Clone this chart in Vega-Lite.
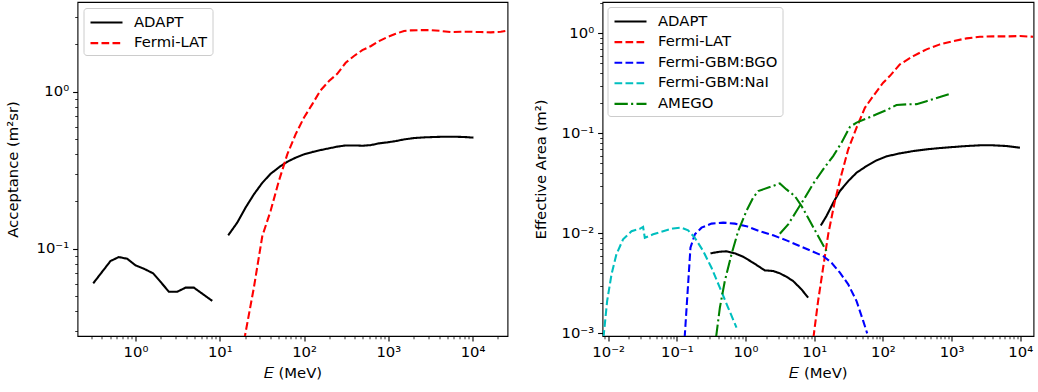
{
  "$schema": "https://vega.github.io/schema/vega-lite/v6.json",
  "padding": {"left": 4.5, "top": 1, "right": 0, "bottom": 0},
  "spacing": 23,
  "background": "white",
  "config": {
    "font": "DejaVu Sans",
    "view": {"stroke": "#000000", "strokeWidth": 1.1},
    "axis": {
      "domain": false, "grid": false,
      "labelFont": "DejaVu Sans", "labelColor": "#000000",
      "titleFont": "DejaVu Sans", "titleFontSize": 14.8, "titleFontWeight": "normal", "titleColor": "#000000",
      "tickColor": "#000000", "labelOverlap": false, "labelFlush": false, "labelBound": false
    },
    "legend": {
      "orient": "top-left", "offset": 6, "fillColor": "rgba(255,255,255,0.8)", "strokeColor": "#cccccc",
      "cornerRadius": 3, "padding": 5, "labelFont": "DejaVu Sans", "labelFontSize": 14.8, "labelColor": "#000000",
      "symbolType": "M-2,0H2", "symbolSize": 256, "symbolOffset": 8.5, "symbolStrokeWidth": 2.08, "labelOffset": 18, "rowPadding": 3.6
    }
  },
  "resolve": {"scale": {"color": "independent", "strokeDash": "independent", "x": "independent", "y": "independent"}},
  "hconcat": [
    {
      "width": 430, "height": 334,
      "data": {"values": [
        {"s":"ADAPT","g":1,"e":0.315,"a":0.0602},{"s":"ADAPT","g":1,"e":0.505,"a":0.0835},{"s":"ADAPT","g":1,"e":0.634,"a":0.0885},{"s":"ADAPT","g":1,"e":0.797,"a":0.0863},{"s":"ADAPT","g":1,"e":1.0,"a":0.0784},{"s":"ADAPT","g":1,"e":1.256,"a":0.0746},{"s":"ADAPT","g":1,"e":1.62,"a":0.0697},{"s":"ADAPT","g":1,"e":1.98,"a":0.0616},{"s":"ADAPT","g":1,"e":2.49,"a":0.0532},{"s":"ADAPT","g":1,"e":3.13,"a":0.0532},{"s":"ADAPT","g":1,"e":3.93,"a":0.0565},{"s":"ADAPT","g":1,"e":4.93,"a":0.0565},{"s":"ADAPT","g":1,"e":6.2,"a":0.0517},{"s":"ADAPT","g":1,"e":8.15,"a":0.0465},
        {"s":"ADAPT","g":2,"e":12.6,"a":0.1217},{"s":"ADAPT","g":2,"e":16.1,"a":0.1465},{"s":"ADAPT","g":2,"e":20.2,"a":0.1824},{"s":"ADAPT","g":2,"e":25.4,"a":0.222},{"s":"ADAPT","g":2,"e":32.0,"a":0.263},{"s":"ADAPT","g":2,"e":40.1,"a":0.300},{"s":"ADAPT","g":2,"e":52.7,"a":0.336},{"s":"ADAPT","g":2,"e":63.3,"a":0.358},{"s":"ADAPT","g":2,"e":79.4,"a":0.380},{"s":"ADAPT","g":2,"e":99.7,"a":0.399},{"s":"ADAPT","g":2,"e":125,"a":0.413},{"s":"ADAPT","g":2,"e":157,"a":0.425},{"s":"ADAPT","g":2,"e":198,"a":0.436},{"s":"ADAPT","g":2,"e":248,"a":0.447},{"s":"ADAPT","g":2,"e":312,"a":0.455},{"s":"ADAPT","g":2,"e":392,"a":0.455},{"s":"ADAPT","g":2,"e":492,"a":0.453},{"s":"ADAPT","g":2,"e":618,"a":0.457},{"s":"ADAPT","g":2,"e":777,"a":0.469},{"s":"ADAPT","g":2,"e":975,"a":0.476},{"s":"ADAPT","g":2,"e":1224,"a":0.485},{"s":"ADAPT","g":2,"e":1538,"a":0.497},{"s":"ADAPT","g":2,"e":2023,"a":0.507},{"s":"ADAPT","g":2,"e":2656,"a":0.512},{"s":"ADAPT","g":2,"e":3494,"a":0.515},{"s":"ADAPT","g":2,"e":4592,"a":0.517},{"s":"ADAPT","g":2,"e":6040,"a":0.517},{"s":"ADAPT","g":2,"e":7940,"a":0.515},{"s":"ADAPT","g":2,"e":10250,"a":0.510},
        {"s":"Fermi-LAT","g":1,"e":19.45,"a":0.026},{"s":"Fermi-LAT","g":1,"e":25.4,"a":0.0565},{"s":"Fermi-LAT","g":1,"e":32.0,"a":0.1205},{"s":"Fermi-LAT","g":1,"e":40.1,"a":0.174},{"s":"Fermi-LAT","g":1,"e":50.3,"a":0.270},{"s":"Fermi-LAT","g":1,"e":63.3,"a":0.399},{"s":"Fermi-LAT","g":1,"e":79.4,"a":0.535},{"s":"Fermi-LAT","g":1,"e":99.7,"a":0.683},{"s":"Fermi-LAT","g":1,"e":125,"a":0.831},{"s":"Fermi-LAT","g":1,"e":157,"a":1.02},{"s":"Fermi-LAT","g":1,"e":198,"a":1.17},{"s":"Fermi-LAT","g":1,"e":248,"a":1.30},{"s":"Fermi-LAT","g":1,"e":312,"a":1.53},{"s":"Fermi-LAT","g":1,"e":392,"a":1.69},{"s":"Fermi-LAT","g":1,"e":492,"a":1.84},{"s":"Fermi-LAT","g":1,"e":618,"a":1.95},{"s":"Fermi-LAT","g":1,"e":777,"a":2.10},{"s":"Fermi-LAT","g":1,"e":975,"a":2.23},{"s":"Fermi-LAT","g":1,"e":1224,"a":2.34},{"s":"Fermi-LAT","g":1,"e":1538,"a":2.44},{"s":"Fermi-LAT","g":1,"e":1845,"a":2.46},{"s":"Fermi-LAT","g":1,"e":2427,"a":2.47},{"s":"Fermi-LAT","g":1,"e":3190,"a":2.47},{"s":"Fermi-LAT","g":1,"e":4190,"a":2.44},{"s":"Fermi-LAT","g":1,"e":5510,"a":2.40},{"s":"Fermi-LAT","g":1,"e":7240,"a":2.41},{"s":"Fermi-LAT","g":1,"e":9520,"a":2.41},{"s":"Fermi-LAT","g":1,"e":12500,"a":2.40},{"s":"Fermi-LAT","g":1,"e":16440,"a":2.39},{"s":"Fermi-LAT","g":1,"e":21630,"a":2.41},{"s":"Fermi-LAT","g":1,"e":25950,"a":2.45}
      ]},
      "mark": {"type": "line", "clip": true, "strokeWidth": 2.08},
      "encoding": {
        "x": {"field": "e", "type": "quantitative",
          "scale": {"type": "log", "domain": [0.205, 26000], "nice": false},
          "axis": {"title": "𝐸 (MeV)", "values": [0.3,0.4,0.5,0.6,0.7,0.8,0.9,1,2,3,4,5,6,7,8,9,10,20,30,40,50,60,70,80,90,100,200,300,400,500,600,700,800,900,1000,2000,3000,4000,5000,6000,7000,8000,9000,10000,20000],
            "labelExpr": "abs(log(datum.value)/LN10 - round(log(datum.value)/LN10)) < 0.001 ? '10' + replace(replace(replace(replace(replace(replace(''+round(log(datum.value)/LN10),'-','⁻'),'0','⁰'),'1','¹'),'2','²'),'3','³'),'4','⁴') : ''",
            "labelFontSize": {"condition": {"test": "abs(log(datum.value)/LN10 - round(log(datum.value)/LN10)) < 0.001", "value": 14.8}, "value": 0},
            "tickSize": {"condition": {"test": "abs(log(datum.value)/LN10 - round(log(datum.value)/LN10)) < 0.001", "value": 4.9}, "value": 2.8},
            "tickWidth": {"condition": {"test": "abs(log(datum.value)/LN10 - round(log(datum.value)/LN10)) < 0.001", "value": 1.1}, "value": 0.8},
            "labelPadding": 3.5, "titlePadding": 6.5}},
        "y": {"field": "a", "type": "quantitative",
          "scale": {"type": "log", "domain": [0.0278, 3.73], "nice": false},
          "axis": {"title": "Acceptance (m²sr)", "values": [0.03,0.04,0.05,0.06,0.07,0.08,0.09,0.1,0.2,0.3,0.4,0.5,0.6,0.7,0.8,0.9,1,2,3],
            "labelExpr": "abs(log(datum.value)/LN10 - round(log(datum.value)/LN10)) < 0.001 ? '10' + replace(replace(replace(replace(replace(replace(''+round(log(datum.value)/LN10),'-','⁻'),'0','⁰'),'1','¹'),'2','²'),'3','³'),'4','⁴') : ''",
            "labelFontSize": {"condition": {"test": "abs(log(datum.value)/LN10 - round(log(datum.value)/LN10)) < 0.001", "value": 14.8}, "value": 0},
            "tickSize": {"condition": {"test": "abs(log(datum.value)/LN10 - round(log(datum.value)/LN10)) < 0.001", "value": 4.9}, "value": 2.8},
            "tickWidth": {"condition": {"test": "abs(log(datum.value)/LN10 - round(log(datum.value)/LN10)) < 0.001", "value": 1.1}, "value": 0.8},
            "labelPadding": 4, "titlePadding": 15.5}},
        "color": {"field": "s", "type": "nominal", "title": null,
          "legend": {"symbolType": "M-2,0H2", "symbolSize": 256, "offset": 6},
          "scale": {"domain": ["ADAPT", "Fermi-LAT"], "range": ["#000000", "#ff0000"]}},
        "strokeDash": {"field": "s", "type": "nominal", "title": null,
          "legend": {"symbolType": "M-2,0H2", "symbolSize": 256, "offset": 6},
          "scale": {"domain": ["ADAPT", "Fermi-LAT"], "range": [[1, 0], [7.7, 3.3]]}},
        "detail": {"field": "g", "type": "nominal"}
      }
    },
    {
      "width": 431, "height": 334,
      "data": {"values": [
        {"s":"ADAPT","g":1,"e":0.309,"a":0.00631},{"s":"ADAPT","g":1,"e":0.423,"a":0.00655},{"s":"ADAPT","g":1,"e":0.529,"a":0.00661},{"s":"ADAPT","g":1,"e":0.700,"a":0.00631},{"s":"ADAPT","g":1,"e":0.925,"a":0.00583},{"s":"ADAPT","g":1,"e":1.29,"a":0.00508},{"s":"ADAPT","g":1,"e":1.91,"a":0.00426},{"s":"ADAPT","g":1,"e":2.53,"a":0.00420},{"s":"ADAPT","g":1,"e":3.16,"a":0.00398},{"s":"ADAPT","g":1,"e":3.95,"a":0.00368},{"s":"ADAPT","g":1,"e":4.94,"a":0.00333},{"s":"ADAPT","g":1,"e":6.54,"a":0.00275},{"s":"ADAPT","g":1,"e":8.17,"a":0.00227},
        {"s":"ADAPT","g":2,"e":12.5,"a":0.0120},{"s":"ADAPT","g":2,"e":15.1,"a":0.0149},{"s":"ADAPT","g":2,"e":18.9,"a":0.0202},{"s":"ADAPT","g":2,"e":23.7,"a":0.0265},{"s":"ADAPT","g":2,"e":31.3,"a":0.0333},{"s":"ADAPT","g":2,"e":41.4,"a":0.0404},{"s":"ADAPT","g":2,"e":57.8,"a":0.0471},{"s":"ADAPT","g":2,"e":80.9,"a":0.0537},{"s":"ADAPT","g":2,"e":113,"a":0.0589},{"s":"ADAPT","g":2,"e":177,"a":0.0631},{"s":"ADAPT","g":2,"e":277,"a":0.0665},{"s":"ADAPT","g":2,"e":432,"a":0.0692},{"s":"ADAPT","g":2,"e":676,"a":0.0713},{"s":"ADAPT","g":2,"e":1057,"a":0.0730},{"s":"ADAPT","g":2,"e":1652,"a":0.0747},{"s":"ADAPT","g":2,"e":2585,"a":0.0759},{"s":"ADAPT","g":2,"e":4043,"a":0.0759},{"s":"ADAPT","g":2,"e":6320,"a":0.0747},{"s":"ADAPT","g":2,"e":9890,"a":0.0718},
        {"s":"Fermi-LAT","g":1,"e":9.74,"a":0.0009},{"s":"Fermi-LAT","g":1,"e":11.4,"a":0.00210},{"s":"Fermi-LAT","g":1,"e":13.5,"a":0.00453},{"s":"Fermi-LAT","g":1,"e":16.0,"a":0.00977},{"s":"Fermi-LAT","g":1,"e":20.0,"a":0.0210},{"s":"Fermi-LAT","g":1,"e":25.0,"a":0.0389},{"s":"Fermi-LAT","g":1,"e":31.3,"a":0.0692},{"s":"Fermi-LAT","g":1,"e":41.4,"a":0.114},{"s":"Fermi-LAT","g":1,"e":54.7,"a":0.180},{"s":"Fermi-LAT","g":1,"e":72.3,"a":0.236},{"s":"Fermi-LAT","g":1,"e":101,"a":0.321},{"s":"Fermi-LAT","g":1,"e":126,"a":0.374},{"s":"Fermi-LAT","g":1,"e":177,"a":0.490},{"s":"Fermi-LAT","g":1,"e":277,"a":0.593},{"s":"Fermi-LAT","g":1,"e":432,"a":0.692},{"s":"Fermi-LAT","g":1,"e":676,"a":0.776},{"s":"Fermi-LAT","g":1,"e":1057,"a":0.838},{"s":"Fermi-LAT","g":1,"e":1652,"a":0.891},{"s":"Fermi-LAT","g":1,"e":2585,"a":0.925},{"s":"Fermi-LAT","g":1,"e":4043,"a":0.933},{"s":"Fermi-LAT","g":1,"e":6320,"a":0.933},{"s":"Fermi-LAT","g":1,"e":9890,"a":0.94},{"s":"Fermi-LAT","g":1,"e":15450,"a":0.925},
        {"s":"Fermi-GBM:BGO","g":1,"e":0.130,"a":0.0009},{"s":"Fermi-GBM:BGO","g":1,"e":0.146,"a":0.00309},{"s":"Fermi-GBM:BGO","g":1,"e":0.158,"a":0.00718},{"s":"Fermi-GBM:BGO","g":1,"e":0.183,"a":0.00977},{"s":"Fermi-GBM:BGO","g":1,"e":0.229,"a":0.0114},{"s":"Fermi-GBM:BGO","g":1,"e":0.320,"a":0.0125},{"s":"Fermi-GBM:BGO","g":1,"e":0.473,"a":0.0128},{"s":"Fermi-GBM:BGO","g":1,"e":0.700,"a":0.0125},{"s":"Fermi-GBM:BGO","g":1,"e":1.03,"a":0.0118},{"s":"Fermi-GBM:BGO","g":1,"e":1.62,"a":0.0105},{"s":"Fermi-GBM:BGO","g":1,"e":2.53,"a":0.00955},{"s":"Fermi-GBM:BGO","g":1,"e":3.95,"a":0.00851},{"s":"Fermi-GBM:BGO","g":1,"e":6.18,"a":0.00746},{"s":"Fermi-GBM:BGO","g":1,"e":9.67,"a":0.00655},{"s":"Fermi-GBM:BGO","g":1,"e":13.5,"a":0.00593},{"s":"Fermi-GBM:BGO","g":1,"e":17.9,"a":0.00508},{"s":"Fermi-GBM:BGO","g":1,"e":23.7,"a":0.00404},{"s":"Fermi-GBM:BGO","g":1,"e":31.3,"a":0.00309},{"s":"Fermi-GBM:BGO","g":1,"e":41.4,"a":0.00210},{"s":"Fermi-GBM:BGO","g":1,"e":51.7,"a":0.00133},{"s":"Fermi-GBM:BGO","g":1,"e":59.1,"a":0.00100},
        {"s":"Fermi-GBM:NaI","g":1,"e":0.00855,"a":0.0009},{"s":"Fermi-GBM:NaI","g":1,"e":0.00967,"a":0.0021},{"s":"Fermi-GBM:NaI","g":1,"e":0.0112,"a":0.00389},{"s":"Fermi-GBM:NaI","g":1,"e":0.0132,"a":0.00617},{"s":"Fermi-GBM:NaI","g":1,"e":0.0165,"a":0.00871},{"s":"Fermi-GBM:NaI","g":1,"e":0.0219,"a":0.0105},{"s":"Fermi-GBM:NaI","g":1,"e":0.0289,"a":0.0111},{"s":"Fermi-GBM:NaI","g":1,"e":0.0323,"a":0.0116},{"s":"Fermi-GBM:NaI","g":1,"e":0.0342,"a":0.00903},{"s":"Fermi-GBM:NaI","g":1,"e":0.0452,"a":0.00977},{"s":"Fermi-GBM:NaI","g":1,"e":0.0632,"a":0.0105},{"s":"Fermi-GBM:NaI","g":1,"e":0.0885,"a":0.0112},{"s":"Fermi-GBM:NaI","g":1,"e":0.117,"a":0.0114},{"s":"Fermi-GBM:NaI","g":1,"e":0.146,"a":0.0107},{"s":"Fermi-GBM:NaI","g":1,"e":0.183,"a":0.00903},{"s":"Fermi-GBM:NaI","g":1,"e":0.242,"a":0.00665},{"s":"Fermi-GBM:NaI","g":1,"e":0.320,"a":0.00453},{"s":"Fermi-GBM:NaI","g":1,"e":0.423,"a":0.00286},{"s":"Fermi-GBM:NaI","g":1,"e":0.560,"a":0.00180},{"s":"Fermi-GBM:NaI","g":1,"e":0.740,"a":0.00114},
        {"s":"AMEGO","g":1,"e":0.372,"a":0.0009},{"s":"AMEGO","g":1,"e":0.423,"a":0.0018},{"s":"AMEGO","g":1,"e":0.500,"a":0.00333},{"s":"AMEGO","g":1,"e":0.625,"a":0.00617},{"s":"AMEGO","g":1,"e":0.782,"a":0.0105},{"s":"AMEGO","g":1,"e":1.03,"a":0.0167},{"s":"AMEGO","g":1,"e":1.29,"a":0.0227},{"s":"AMEGO","g":1,"e":1.53,"a":0.0265},{"s":"AMEGO","g":1,"e":2.26,"a":0.0290},{"s":"AMEGO","g":1,"e":3.16,"a":0.0316},{"s":"AMEGO","g":1,"e":3.95,"a":0.0275},{"s":"AMEGO","g":1,"e":5.23,"a":0.0236},{"s":"AMEGO","g":1,"e":6.54,"a":0.0188},{"s":"AMEGO","g":1,"e":8.65,"a":0.0133},{"s":"AMEGO","g":1,"e":11.4,"a":0.0094},{"s":"AMEGO","g":1,"e":15.1,"a":0.00665},
        {"s":"AMEGO","g":2,"e":3.16,"a":0.00992},{"s":"AMEGO","g":2,"e":4.18,"a":0.0123},{"s":"AMEGO","g":2,"e":5.53,"a":0.0167},{"s":"AMEGO","g":2,"e":7.31,"a":0.0227},{"s":"AMEGO","g":2,"e":9.67,"a":0.0313},{"s":"AMEGO","g":2,"e":13.5,"a":0.0436},{"s":"AMEGO","g":2,"e":18.9,"a":0.0593},{"s":"AMEGO","g":2,"e":25.0,"a":0.0806},{"s":"AMEGO","g":2,"e":33.1,"a":0.116},{"s":"AMEGO","g":2,"e":41.4,"a":0.128},{"s":"AMEGO","g":2,"e":57.8,"a":0.141},{"s":"AMEGO","g":2,"e":80.9,"a":0.155},{"s":"AMEGO","g":2,"e":113,"a":0.171},{"s":"AMEGO","g":2,"e":158,"a":0.192},{"s":"AMEGO","g":2,"e":221,"a":0.195},{"s":"AMEGO","g":2,"e":309,"a":0.196},{"s":"AMEGO","g":2,"e":432,"a":0.210},{"s":"AMEGO","g":2,"e":676,"a":0.231},{"s":"AMEGO","g":2,"e":1000,"a":0.251}
      ]},
      "mark": {"type": "line", "clip": true, "strokeWidth": 2.08},
      "encoding": {
        "x": {"field": "e", "type": "quantitative",
          "scale": {"type": "log", "domain": [0.00828, 15600], "nice": false},
          "axis": {"title": "𝐸 (MeV)", "values": [0.009,0.01,0.02,0.03,0.04,0.05,0.06,0.07,0.08,0.09,0.1,0.2,0.3,0.4,0.5,0.6,0.7,0.8,0.9,1,2,3,4,5,6,7,8,9,10,20,30,40,50,60,70,80,90,100,200,300,400,500,600,700,800,900,1000,2000,3000,4000,5000,6000,7000,8000,9000,10000],
            "labelExpr": "abs(log(datum.value)/LN10 - round(log(datum.value)/LN10)) < 0.001 ? '10' + replace(replace(replace(replace(replace(replace(''+round(log(datum.value)/LN10),'-','⁻'),'0','⁰'),'1','¹'),'2','²'),'3','³'),'4','⁴') : ''",
            "labelFontSize": {"condition": {"test": "abs(log(datum.value)/LN10 - round(log(datum.value)/LN10)) < 0.001", "value": 14.8}, "value": 0},
            "tickSize": {"condition": {"test": "abs(log(datum.value)/LN10 - round(log(datum.value)/LN10)) < 0.001", "value": 4.9}, "value": 2.8},
            "tickWidth": {"condition": {"test": "abs(log(datum.value)/LN10 - round(log(datum.value)/LN10)) < 0.001", "value": 1.1}, "value": 0.8},
            "labelPadding": 3.5, "titlePadding": 6.5}},
        "y": {"field": "a", "type": "quantitative",
          "scale": {"type": "log", "domain": [0.00094, 2.06], "nice": false},
          "axis": {"title": "Effective Area (m²)", "values": [0.001,0.002,0.003,0.004,0.005,0.006,0.007,0.008,0.009,0.01,0.02,0.03,0.04,0.05,0.06,0.07,0.08,0.09,0.1,0.2,0.3,0.4,0.5,0.6,0.7,0.8,0.9,1,2],
            "labelExpr": "abs(log(datum.value)/LN10 - round(log(datum.value)/LN10)) < 0.001 ? '10' + replace(replace(replace(replace(replace(replace(''+round(log(datum.value)/LN10),'-','⁻'),'0','⁰'),'1','¹'),'2','²'),'3','³'),'4','⁴') : ''",
            "labelFontSize": {"condition": {"test": "abs(log(datum.value)/LN10 - round(log(datum.value)/LN10)) < 0.001", "value": 14.8}, "value": 0},
            "tickSize": {"condition": {"test": "abs(log(datum.value)/LN10 - round(log(datum.value)/LN10)) < 0.001", "value": 4.9}, "value": 2.8},
            "tickWidth": {"condition": {"test": "abs(log(datum.value)/LN10 - round(log(datum.value)/LN10)) < 0.001", "value": 1.1}, "value": 0.8},
            "labelPadding": 4, "titlePadding": 13}},
        "color": {"field": "s", "type": "nominal", "title": null,
          "legend": {"symbolType": "M-2,0H2", "symbolSize": 256, "offset": 4.5},
          "scale": {"domain": ["ADAPT", "Fermi-LAT", "Fermi-GBM:BGO", "Fermi-GBM:NaI", "AMEGO"], "range": ["#000000", "#ff0000", "#0000ff", "#00bfbf", "#008000"]}},
        "strokeDash": {"field": "s", "type": "nominal", "title": null,
          "legend": {"symbolType": "M-2,0H2", "symbolSize": 256, "offset": 4.5},
          "scale": {"domain": ["ADAPT", "Fermi-LAT", "Fermi-GBM:BGO", "Fermi-GBM:NaI", "AMEGO"], "range": [[1, 0], [7.7, 3.3], [7.7, 3.3], [7.7, 3.3], [13.3, 3.3, 2.1, 3.3]]}},
        "detail": {"field": "g", "type": "nominal"}
      }
    }
  ]
}
